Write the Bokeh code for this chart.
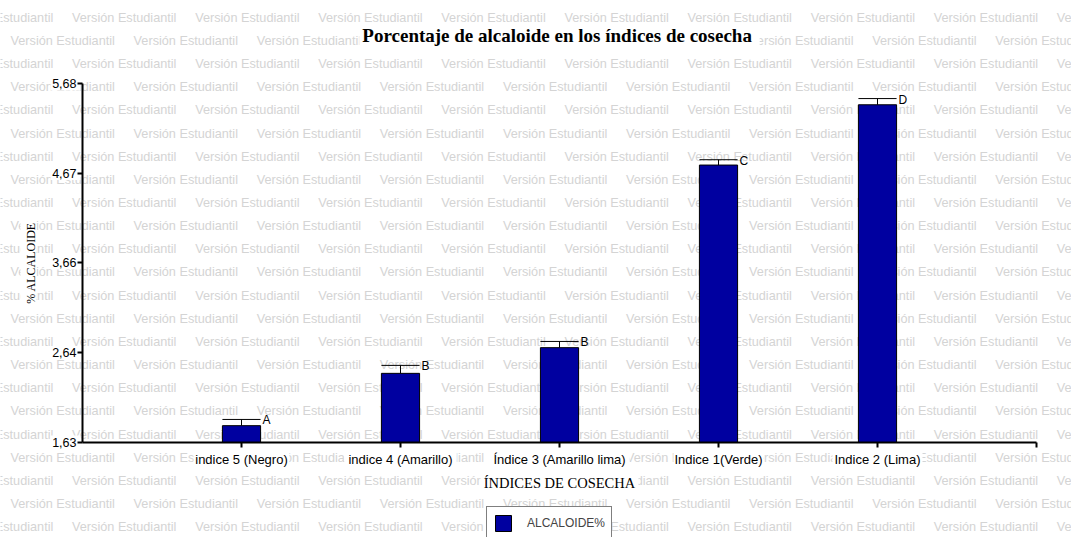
from bokeh.plotting import figure
from bokeh.models import (ColumnDataSource, FixedTicker, Label, Legend, LegendItem, Range1d)
from bokeh.core.properties import value
from bokeh.embed import file_html
from bokeh.resources import INLINE

# Harvest-index categories and alkaloid content (%)
categorias = ["indice 5 (Negro)", "indice 4 (Amarillo)", "Índice 3 (Amarillo lima)",
              "Indice 1(Verde)", "Indice 2 (Lima)"]
alcaloide = [1.82, 2.41, 2.70, 4.76, 5.44]
error_est = [0.07, 0.09, 0.07, 0.06, 0.07]
letras = ["A", "B", "B", "C", "D"]
y_ticks = [1.63, 2.64, 3.66, 4.67, 5.68]
y_tick_labels = ["1,63", "2,64", "3,66", "4,67", "5,68"]
serie = "ALCALOIDE%"
titulo = "Porcentaje de alcaloide  en los índices de cosecha"
x_titulo = "ÍNDICES DE COSECHA"
y_titulo = "% ALCALOIDE"

SANS = "Liberation Sans"
SERIF = "Liberation Serif"
BAR_COLOR = "#0000A0"
BAR_W = 0.24

# frame placement on the canvas (pixels)
F_LEFT, F_RIGHT, F_TOP, F_BOTTOM = 82, 1036, 83, 442
W, H = 1071, 537
PIN = {"position": "absolute", "top": "0px", "left": "0px"}

pos = list(range(1, len(categorias) + 1))
upper = [a + e for a, e in zip(alcaloide, error_est)]
x_end = len(categorias) + 1

src = ColumnDataSource(dict(
    x=pos, top=alcaloide, upper=upper, letra=letras,
    x0=[x - BAR_W / 2 for x in pos], x1=[x + BAR_W / 2 for x in pos],
))


def px_x(v):
    return F_LEFT + v / x_end * (F_RIGHT - F_LEFT)


def px_y(v):
    return F_BOTTOM - (v - y_ticks[0]) / (y_ticks[-1] - y_ticks[0]) * (F_BOTTOM - F_TOP)


# ---- background layer: stamp, title and legend (pixel coordinates) ----
bg = figure(width=W, height=H, output_backend="svg", toolbar_location=None,
            x_range=Range1d(0, W), y_range=Range1d(H, 0), title=None,
            x_axis_location=None, y_axis_location=None, min_border=0,
            background_fill_color="white", border_fill_color="white",
            outline_line_color=None)
bg.grid.visible = False
bg.styles = PIN
wm_x, wm_y = [], []
row_pitch, col_pitch = 23.15, 123.1
for i in range(23):
    cy = 17.3 + row_pitch * i
    cx = 10 - col_pitch + (col_pitch / 2 if i % 2 == 0 else 0)
    while cx < W:
        wm_x.append(cx)
        wm_y.append(cy)
        cx += col_pitch
bg.text(x=wm_x, y=wm_y, text=["Versión Estudiantil"] * len(wm_x),
        text_font=value(SANS), text_font_size="12.7px", text_color="#d4d4d4",
        text_baseline="middle", text_align="left")

# white boxes behind the axis texts
mx = [px_x(x) for x in pos] + [65] * len(y_ticks) + [(F_LEFT + F_RIGHT) / 2, 28]
my = [460] * len(pos) + [px_y(t) for t in y_ticks] + [482, (F_TOP + F_BOTTOM) / 2]
mw = [len(c) * 5.6 + 6 for c in categorias] + [30] * len(y_ticks) + [158, 16]
mh = [16] * len(pos) + [14] * len(y_ticks) + [18, 88]
bg.rect(x=mx, y=my, width=mw, height=mh, fill_color="white", line_color=None)

bg.add_layout(Label(x=(F_LEFT + F_RIGHT) / 2, y=35, text=titulo,
                    text_font=SERIF, text_font_style="bold", text_font_size="19px",
                    text_color="black", text_align="center", text_baseline="middle",
                    background_fill_color="white", padding=3))

swatch = bg.vbar(x="x", top="top", width=BAR_W, source=src, fill_color=BAR_COLOR,
                 line_color="black", line_width=1, visible=False)
bg.add_layout(Legend(items=[LegendItem(label=serie, renderers=[swatch], index=0)],
                     location=(486, -3), glyph_width=20, glyph_height=20, padding=6,
                     margin=0, spacing=0, label_standoff=14, click_policy="none",
                     border_line_color="black", border_line_width=1,
                     background_fill_color="white", background_fill_alpha=1,
                     label_text_font=SANS, label_text_font_size="12px"))

# ---- chart layer (transparent, drawn over the stamp) ----
p = figure(width=W, height=H, output_backend="svg", toolbar_location=None,
           x_range=Range1d(0, x_end),
           y_range=Range1d(y_ticks[0], y_ticks[-1]),
           min_border_left=F_LEFT, min_border_right=W - F_RIGHT,
           min_border_top=F_TOP, min_border_bottom=H - F_BOTTOM,
           background_fill_color=None, border_fill_color=None,
           outline_line_color=None)
p.grid.visible = False
p.title.visible = False
p.styles = PIN

p.vbar(x="x", top="top", bottom=y_ticks[0], width=BAR_W, source=src,
       fill_color=BAR_COLOR, line_color="black", line_width=1)
p.segment(x0="x", y0="top", x1="x", y1="upper", source=src, line_color="black", line_width=1)
p.segment(x0="x0", y0="upper", x1="x1", y1="upper", source=src, line_color="black", line_width=1)
p.text(x="x1", y="upper", text="letra", source=src, x_offset=2, y_offset=1,
       text_font=value(SANS), text_font_size="12px", text_color="black",
       text_baseline="alphabetic", text_align="left")

# axes
xa = p.xaxis[0]
xa.ticker = FixedTicker(ticks=pos + [x_end])
xa.major_label_overrides = {**{x: c for x, c in zip(pos, categorias)}, x_end: ""}
xa.axis_label = x_titulo
xa.axis_label_text_font_size = "14.5px"
xa.axis_label_standoff = 5
xa.major_label_standoff = 4
xa.major_label_text_font_size = "13px"

ya = p.yaxis[0]
ya.ticker = FixedTicker(ticks=y_ticks)
ya.major_label_overrides = {t: s for t, s in zip(y_ticks, y_tick_labels)}
ya.axis_label = y_titulo
ya.axis_label_text_font_size = "12px"
ya.axis_label_standoff = 11
ya.major_label_standoff = 1
ya.major_label_text_font_size = "12.5px"

for ax in (xa, ya):
    ax.axis_line_width = 2
    ax.axis_line_color = "black"
    ax.major_tick_line_width = 2
    ax.major_tick_out = 5
    ax.major_tick_in = 0
    ax.minor_tick_line_color = None
    ax.major_label_text_font = SANS
    ax.major_label_text_color = "black"
    ax.axis_label_text_font = SERIF
    ax.axis_label_text_font_style = "normal"
    ax.axis_label_text_color = "black"

open("out.html", "w").write(file_html([bg, p], INLINE))
